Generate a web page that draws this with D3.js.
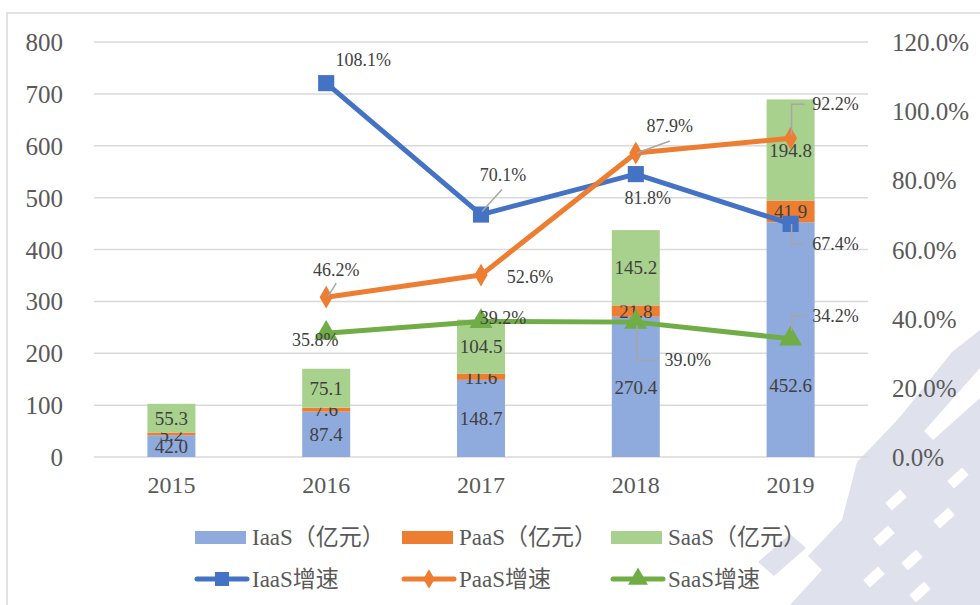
<!DOCTYPE html>
<html>
<head>
<meta charset="utf-8">
<script src="https://cdn.jsdelivr.net/npm/d3@7"></script>
<style>
  html, body { margin: 0; padding: 0; background: #fff; }
  svg { display: block; font-family: "Liberation Serif", "Times New Roman", "Noto Sans CJK SC", serif; }
</style>
</head>
<body>
<div id="chart"></div>
<script>
// Chart data
const years = ["2015", "2016", "2017", "2018", "2019"];
const iaasValues = [42.0, 87.4, 148.7, 270.4, 452.6];
const paasValues = [5.2, 7.6, 11.6, 21.8, 41.9];
const saasValues = [55.3, 75.1, 104.5, 145.2, 194.8];
const growthYears = ["2016", "2017", "2018", "2019"];
const iaasGrowth = [108.1, 70.1, 81.8, 67.4];
const paasGrowth = [46.2, 52.6, 87.9, 92.2];
const saasGrowth = [35.8, 39.2, 39.0, 34.2];
const leftTicks = [0, 100, 200, 300, 400, 500, 600, 700, 800];
const rightTicks = [0, 20, 40, 60, 80, 100, 120];
const barNames = ["IaaS（亿元）", "PaaS（亿元）", "SaaS（亿元）"];
const lineNames = ["IaaS增速", "PaaS增速", "SaaS增速"];

const W = 980, H = 605;
const svg = d3.select("#chart").append("svg")
    .attr("width", W)
    .attr("height", H);

// pale seal watermark in the lower right corner
const wm = svg.append("g").attr("fill", "#dfe2ec");
[
    "M857,462 L905,412 L933,440 L980,398 L980,605 L790,605 L822,570 L808,556 L842,520 Z",
    "M880,442 L952,352 L980,330 L980,368 L925,430 L900,458 Z",
    "M758,562 L790,534 L806,548 L774,576 Z"
].forEach(d => wm.append("path").attr("d", d));
const wmHoles = svg.append("g").attr("fill", "#ffffff");
[[884, 536], [912, 560], [874, 577], [920, 592], [944, 518], [958, 478], [896, 500]].forEach(([hx, hy]) => {
    wmHoles.append("rect")
        .attr("x", -10).attr("y", -5)
        .attr("width", 20).attr("height", 10)
        .attr("transform", `translate(${hx},${hy}) rotate(-42)`);
});

// chart frame (top and left edges visible)
svg.append("path")
    .attr("d", "M7,605 L7,13 L980,13")
    .attr("fill", "none")
    .attr("stroke", "#d9d9d9").attr("stroke-width", 1.5);

// Scales
const x = d3.scaleBand()
    .domain(years)
    .range([94, 868])
    .paddingInner(0.69)
    .paddingOuter(0.345);

const y = d3.scaleLinear().domain([0, 800]).range([457, 42]);
const y2 = d3.scaleLinear().domain([0, 120]).range([457, 42]);
const cx = yr => x(yr) + x.bandwidth() / 2;

// Gridlines
svg.append("g")
    .selectAll("line")
    .data(leftTicks)
    .join("line")
    .attr("x1", 94).attr("x2", 868)
    .attr("y1", d => y(d)).attr("y2", d => y(d))
    .attr("stroke", "#d9d9d9")
    .attr("stroke-width", 1.5);

function styleAxis(g, size) {
    g.attr("font-family", null).attr("font-size", null);
    g.select(".domain").remove();
    g.selectAll("text")
        .attr("fill", "#595959")
        .style("font-size", size);
}

// Left axis
svg.append("g")
    .attr("transform", "translate(63,0)")
    .call(d3.axisLeft(y).tickValues(leftTicks).tickSize(0).tickPadding(0))
    .call(g => styleAxis(g, "25px"))
    .selectAll("text").attr("dy", "0.34em");

// Right axis
svg.append("g")
    .attr("transform", "translate(892,0)")
    .call(d3.axisRight(y2).tickValues(rightTicks).tickSize(0).tickPadding(0)
        .tickFormat(d => d.toFixed(1) + "%"))
    .call(g => styleAxis(g, "25px"))
    .selectAll("text").attr("dy", "0.34em");

// Bottom axis
svg.append("g")
    .attr("transform", "translate(0,476)")
    .call(d3.axisBottom(x).tickSize(0).tickPadding(0))
    .call(g => styleAxis(g, "24px"))
    .selectAll("text").attr("dy", "0.71em");

// Stacked bars
const barColors = ["#8faadc", "#ed7d31", "#a9d18e"];
const barRows = years.map((yr, i) => ({
    year: yr, iaas: iaasValues[i], paas: paasValues[i], saas: saasValues[i]
}));
const stacked = d3.stack().keys(["iaas", "paas", "saas"])(barRows);

const layers = svg.append("g")
    .selectAll("g")
    .data(stacked)
    .join("g")
    .attr("fill", (d, i) => barColors[i]);

layers.selectAll("rect")
    .data(d => d)
    .join("rect")
    .attr("x", d => x(d.data.year))
    .attr("width", x.bandwidth())
    .attr("y", d => y(d[1]))
    .attr("height", d => y(d[0]) - y(d[1]));

// bar value labels (one label was nudged down in the original to clear the marker)
const barLabelShift = { "iaas-2019": 46 };
layers.selectAll("text")
    .data(d => d.map(v => ({ v, key: d.key })))
    .join("text")
    .attr("x", d => cx(d.v.data.year))
    .attr("y", d => (y(d.v[0]) + y(d.v[1])) / 2 + (barLabelShift[d.key + "-" + d.v.data.year] || 0))
    .attr("dy", "0.35em")
    .attr("text-anchor", "middle")
    .attr("fill", "#404040")
    .style("font-size", "19px")
    .text(d => d.v.data[d.key].toFixed(1));

// Growth lines
const lineColors = ["#4472c4", "#ed7d31", "#70ad47"];
const growthSeries = [iaasGrowth, paasGrowth, saasGrowth];
const line = d3.line()
    .x(d => cx(d.year))
    .y(d => y2(d.value));

const markerShapes = [d3.symbolSquare, d3.symbolDiamond, d3.symbolTriangle];
const markerSizes = [260, 150, 230];

growthSeries.forEach((vals, s) => {
    const pts = growthYears.map((yr, i) => ({ year: yr, value: vals[i] }));
    svg.append("path")
        .datum(pts)
        .attr("fill", "none")
        .attr("stroke", lineColors[s])
        .attr("stroke-width", 5)
        .attr("stroke-linejoin", "round")
        .attr("d", line);
    svg.append("g")
        .selectAll("path")
        .data(pts)
        .join("path")
        .attr("transform", d => `translate(${cx(d.year)},${y2(d.value)})`)
        .attr("d", d3.symbol().type(markerShapes[s]).size(markerSizes[s]))
        .attr("fill", lineColors[s]);
});

// Growth label placement: label offset from the point, leader line points (relative to point)
const labelLayout = [
    [
        { d: [37, -23] },
        { d: [22, -40], lead: [[1, -3], [21, -25]] },
        { d: [12, 24] },
        { d: [45, 20], lead: [[1, 0], [1, 20], [14, 20]] }
    ],
    [
        { d: [10, -28], lead: [[10, -14], [2, -1]] },
        { d: [49, 2] },
        { d: [34, -27], lead: [[1, 0], [34, -12]] },
        { d: [45, -34], lead: [[1, -3], [1, -34], [14, -34]] }
    ],
    [
        { d: [-11, 7] },
        { d: [22, -4] },
        { d: [52, 38], lead: [[1, 3], [1, 38], [21, 38]] },
        { d: [45, -23], lead: [[1, -8], [1, -23], [14, -23]] }
    ]
];

const labelG = svg.append("g");
growthSeries.forEach((vals, s) => {
    growthYears.forEach((yr, i) => {
        const px = cx(yr), py = y2(vals[i]);
        const lay = labelLayout[s][i];
        if (lay.lead) {
            labelG.append("polyline")
                .attr("points", lay.lead.map(p => `${px + p[0]},${py + p[1]}`).join(" "))
                .attr("fill", "none")
                .attr("stroke", "#a6a6a6")
                .attr("stroke-width", 1.5);
        }
        labelG.append("text")
            .attr("x", px + lay.d[0])
            .attr("y", py + lay.d[1])
            .attr("dy", "0.35em")
            .attr("text-anchor", "middle")
            .attr("fill", "#404040")
            .style("font-size", "18px")
            .text(vals[i].toFixed(1) + "%");
    });
});

// Legend
const legendX = [195, 402, 611];
const legend = svg.append("g");
barNames.forEach((name, i) => {
    legend.append("rect")
        .attr("x", legendX[i]).attr("y", 531)
        .attr("width", 51).attr("height", 13)
        .attr("fill", barColors[i]);
    legend.append("text")
        .attr("x", legendX[i] + 57).attr("y", 537)
        .attr("dy", "0.35em")
        .attr("fill", "#595959")
        .style("font-size", "23px")
        .text(name);
});
lineNames.forEach((name, i) => {
    legend.append("line")
        .attr("x1", legendX[i] + 2).attr("x2", legendX[i] + 52)
        .attr("y1", 579).attr("y2", 579)
        .attr("stroke", lineColors[i])
        .attr("stroke-width", 5)
        .attr("stroke-linecap", "round");
    legend.append("path")
        .attr("transform", `translate(${legendX[i] + 27},579)`)
        .attr("d", d3.symbol().type(markerShapes[i]).size(markerSizes[i] * 0.75))
        .attr("fill", lineColors[i]);
    legend.append("text")
        .attr("x", legendX[i] + 57).attr("y", 579)
        .attr("dy", "0.35em")
        .attr("fill", "#595959")
        .style("font-size", "23px")
        .text(name);
});
</script>
</body>
</html>
